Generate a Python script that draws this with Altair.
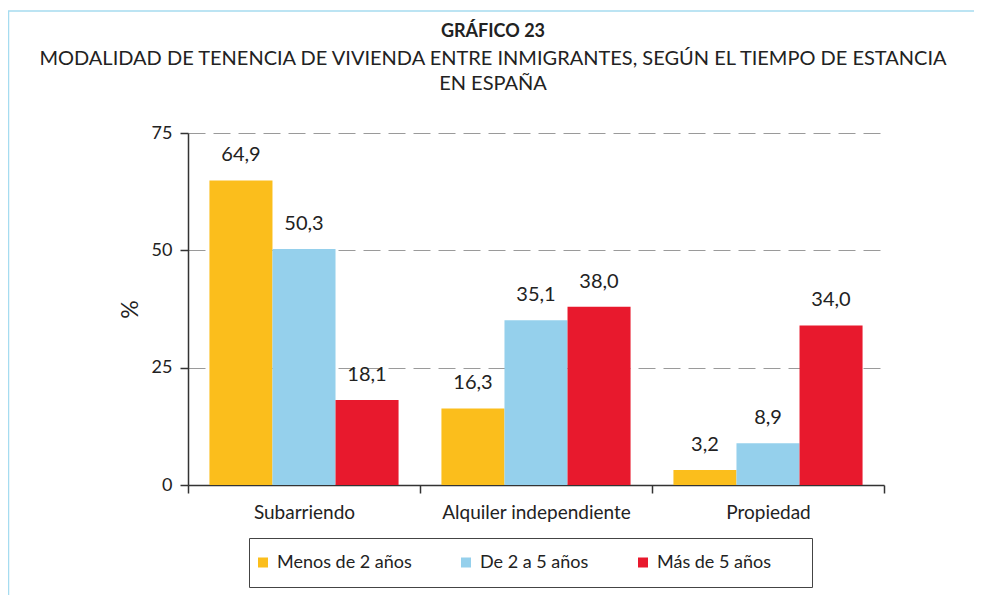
import altair as alt
import pandas as pd

categorias = ["Subarriendo", "Alquiler independiente", "Propiedad"]
series = ["Menos de 2 años", "De 2 a 5 años", "Más de 5 años"]
menos_2 = [64.9, 16.3, 3.2]
de_2_a_5 = [50.3, 35.1, 8.9]
mas_5 = [18.1, 38.0, 34.0]
colores = ["#FBBE1C", "#95D0EC", "#E8192D"]
y_ticks = [0, 25, 50, 75]

rows = []
for serie, vals in zip(series, [menos_2, de_2_a_5, mas_5]):
    for cat, v in zip(categorias, vals):
        rows.append({"categoria": cat, "serie": serie, "valor": v,
                     "etiqueta": f"{v:.1f}".replace(".", ",")})
df = pd.DataFrame(rows)

FONT = "Lato"
INK = "#222222"

base = alt.Chart(df).encode(
    x=alt.X("categoria:N", sort=categorias,
            scale=alt.Scale(paddingInner=0, paddingOuter=0),
            axis=alt.Axis(title=None, tickBand="extent", tickSize=8, labelPadding=10,
                          labelFontSize=19, labelFont=FONT, labelAngle=0, labelColor=INK,
                          labelLimit=400,
                          domainColor="#333333", tickColor="#333333", domainWidth=1.5,
                          tickWidth=1.5, grid=False)),
    xOffset=alt.XOffset("serie:N", sort=series,
                        scale=alt.Scale(paddingInner=0, paddingOuter=0.34)),
    y=alt.Y("valor:Q", scale=alt.Scale(domain=[0, 75]),
            axis=alt.Axis(values=y_ticks, title="%", titleFont=FONT, titleFontSize=23,
                          titleFontWeight="normal", titleColor=INK, titleX=-58, titleY=176,
                          titleAlign="center", titleBaseline="middle",
                          labelFont=FONT, labelFontSize=18, labelColor=INK, labelPadding=8,
                          tickSize=8, tickColor="#333333", tickWidth=1.5,
                          domainColor="#333333", domainWidth=1.5,
                          grid=True, gridDash=[17, 8], gridColor="#9a9a9a", gridWidth=1)),
)

bars = base.mark_bar().encode(
    color=alt.Color("serie:N", sort=series,
                    scale=alt.Scale(domain=series, range=colores),
                    legend=alt.Legend(title="\u00a0", titleOrient="right", titlePadding=36,
                                      titleFontSize=10,
                                      orient="none", legendX=61, legendY=405,
                                      direction="horizontal", columns=3,
                                      symbolType="square", symbolSize=100,
                                      symbolStrokeWidth=0, labelFont=FONT,
                                      labelFontSize=18, labelColor=INK, labelOffset=5,
                                      labelLimit=300,
                                      columnPadding=45, padding=5, strokeColor="#444444",
                                      clipHeight=39))
)

labels = base.mark_text(dy=-19, baseline="alphabetic", fontSize=20, font=FONT,
                        color=INK).encode(text="etiqueta:N")

frame = alt.Chart(pd.DataFrame({"a": [0]})).mark_rect(
    fillOpacity=0, stroke="#A6DCF0", strokeWidth=1.5
).encode(x=alt.value(-179.5), y=alt.value(-122), x2=alt.value(1200), y2=alt.value(1000))

chart = alt.layer(frame, bars, labels).properties(
    width=696, height=352,
    padding={"left": 180, "top": 125, "right": 90, "bottom": 110},
    autosize=alt.AutoSizeParams(type="none"),
    background="white",
    title=alt.Title(text="GRÁFICO 23",
                    subtitle=["MODALIDAD DE TENENCIA DE VIVIENDA ENTRE INMIGRANTES, SEGÚN EL TIEMPO DE ESTANCIA",
                              "EN ESPAÑA"],
                    anchor="middle", frame="group", dx=-43, dy=114, offset=30,
                    font=FONT, fontSize=18, fontWeight="bold", color=INK,
                    subtitleFont=FONT, subtitleFontSize=20, subtitleColor=INK,
                    subtitlePadding=8, subtitleLineHeight=25),
).configure_view(strokeWidth=0)

chart.save("out.html", embed_options={"renderer": "svg", "actions": False})
